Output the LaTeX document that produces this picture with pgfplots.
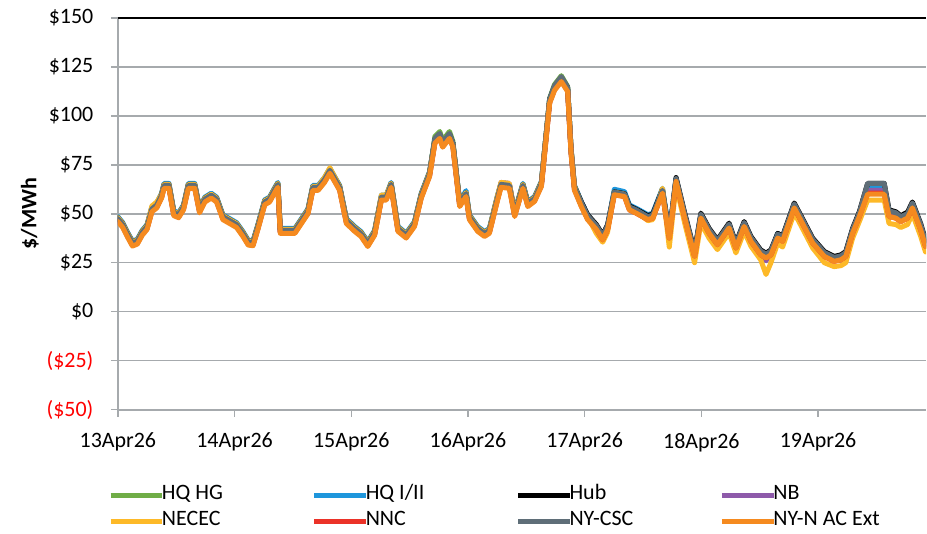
\documentclass[border=0pt]{standalone}
\usepackage{pgfplots}
\pgfplotsset{compat=1.18}
\usepackage{pgfplotstable}
\usepackage{fontspec}
\setmainfont{Carlito}
\definecolor{cHG}{RGB}{112,173,71}
\definecolor{cHQ}{RGB}{30,150,220}
\definecolor{cHUB}{RGB}{0,0,0}
\definecolor{cNB}{RGB}{142,90,170}
\definecolor{cNE}{RGB}{253,185,40}
\definecolor{cNNC}{RGB}{235,50,40}
\definecolor{cCSC}{RGB}{95,110,120}
\definecolor{cNYN}{RGB}{245,138,31}
\definecolor{gridgray}{RGB}{166,170,173}
\pgfplotstableread{
h HG HQ HUB NB NE NNC CSC NYN
0 47.5 48.5 48 46.5 48 46.5 47.5 46
1 44.5 45.5 45 43.5 45 43.5 44.5 43
2 39.5 40.5 40 38.5 40 38.5 39.5 38
3 35 36 35.5 34 35.5 34 35 33.5
4 36 37 36.5 35 36.5 35 36 34.5
5 40.5 41.5 41 39.5 41 39.5 40.5 39
6 43.5 44.5 44 42.5 44 42.5 43.5 42
7 52.5 53.5 53 51.5 54 51.5 52.5 51
8 54.5 55.5 55 53.5 56 53.5 54.5 53
9 59.5 60.5 60 58.5 60 58.5 59.5 58
9.5 64.5 65.5 65 63.5 65 63.5 64.5 63
10.5 64.5 65.5 65 63.5 65 63.5 64.5 63
11.5 50.5 51.5 51 49.5 51 49.5 50.5 49
12.5 49.5 50.5 50 48.5 50 48.5 49.5 48
13.5 53.5 54.5 54 52.5 54 52.5 53.5 52
14.5 64.5 65.5 65 63.5 65 63.5 64.5 63
15.8 64.5 65.5 65 63.5 65 63.5 64.5 63
16.8 52 53 52.5 51 52.5 51 52 50.5
17.9 57.5 58.5 58 56.5 58 56.5 57.5 56
19.2 59.5 60.5 60 58.5 60 58.5 59.5 58
20.3 57.5 58.5 58 56.5 58 56.5 57.5 56
21.6 48.5 49.5 49 47.5 49 47.5 48.5 47
23 46.5 47.5 47 45.5 47 45.5 46.5 45
24.4 44.5 45.5 45 43.5 45 43.5 44.5 43
25.7 40 41 40.5 39 40.5 39 40 38.5
26.8 35.5 36.5 36 34.5 36 34.5 35.5 34
27.8 35.2 36.2 35.7 34.2 35.7 34.2 35.2 33.7
28.8 43.5 44.5 44 42.5 44 42.5 43.5 42
30.2 56.1 57.1 56.6 55.1 56.6 55.1 56.1 54.6
31.2 57.5 58.5 58 56.5 58 56.5 57.5 56
32.3 62.5 63.5 63 61.5 63 61.5 62.5 61
32.9 65 66 65.5 64 65.5 64 65 63.5
33.4 41.5 42.5 42 40.5 42 40.5 41.5 40
36.4 41.5 42.5 42 40.5 42 40.5 41.5 40
39.1 51.5 52.5 52 50.5 52 50.5 51.5 50
40.1 63.5 64.5 64 62.5 64 62.5 63.5 62
41.2 63.5 64.5 64 62.5 64 62.5 63.5 62
42.5 67.5 68.5 68 66.5 68.5 66.5 67.5 66
43.6 72.2 73.2 72.7 71.2 73.5 71.2 72.2 70.7
45.6 63.5 64.5 64 62.5 64 62.5 63.5 62
47 46.5 47.5 47 45.5 47 45.5 46.5 45
48.7 42.5 43.5 43 41.5 43 41.5 42.5 41
50 39.9 40.9 40.4 38.9 40.4 38.9 39.9 38.4
51.4 34.8 35.8 35.3 33.8 35.3 33.8 34.8 33.3
52.8 40.5 41.5 41 39.5 41 39.5 40.5 39
54.2 58.5 59.5 59 57.5 59.5 57.5 58.5 57
55.2 58.5 59.5 59 57.5 59.5 57.5 58.5 57
56.2 65 66 65.5 64 65.5 64 65 63.5
57.6 42.5 43.5 43 41.5 43 41.5 42.5 41
59.3 39.1 40.1 39.6 38.1 39.6 38.1 39.1 37.6
61 45 46 45.5 44 45.5 44 45 43.5
62.4 59.5 60.5 60 58.5 60 58.5 59.5 58
64.1 70.5 71.5 71 69.5 71 69.5 70.5 69
65.2 89.5 88 88 86.5 87.5 86.5 88.5 86
66.2 92 90.5 90.5 89 90 89 91 88.5
66.8 87.5 86 86 84.5 85.5 84.5 86.5 84
68.2 92 90.5 90.5 89 90 89 91 88.5
68.9 87 86 86 84.5 85.5 84.5 86 84
70.3 55.2 56.2 55.7 54.2 55.7 54.2 55.2 53.7
71.6 60.3 61.8 60.8 59.3 60.8 59.3 60.3 58.8
72.3 48.5 49.5 49 47.5 49 47.5 48.5 47
74 42.5 43.5 43 41.5 43 41.5 42.5 41
75.4 39.9 40.9 40.4 38.9 40.4 38.9 39.9 38.4
76.4 41.5 42.5 42 40.5 42 40.5 41.5 40
78.1 58.5 59.5 59 58 59.5 57.5 58.5 57
78.8 65 65.5 65.5 66 66 64 65 63.5
80.5 64.5 65 65 65.5 65.5 63.5 64.5 63
81.6 50.1 51.1 50.6 49.1 50.6 49.1 50.1 48.6
83.3 64.5 65.5 65 63.5 65 63.5 64.5 63
84.3 55.2 56.2 55.7 54.2 55.7 54.2 55.2 53.7
85.7 57.8 58.8 58.3 56.8 58.3 56.8 57.8 56.3
87.1 65.5 66.5 66 64.5 66 64.5 65.5 64
88.8 109 108.5 108.5 107 108 107 108.5 106.5
89.8 116 115 115 113.5 114.5 113.5 115.5 113
91.2 120.5 119.5 119.5 118 119 118 120 117.5
92.5 115 114.4 114.4 112.9 113.9 112.9 114.5 112.4
93.2 82.5 83.5 83 81.5 83 81.5 82.5 81
93.9 63.5 64.5 64 62.5 64 62.5 63.5 62
95.3 55.2 56.2 56.2 54.2 55.2 54.2 55.7 53.7
96.6 48.5 49.5 49.5 47.5 48.5 47.5 49 47
98.4 43 43.5 44.5 42.5 40 42 44 42
99.7 37.7 38.2 39.2 37.2 35.5 36.7 38.7 36.7
100.7 42.8 43.3 44.3 42.3 40.5 41.8 43.8 41.8
102.1 60.7 62.5 61.2 60.2 61 59.7 61 59.7
104.2 59.8 61.3 60.3 59.3 60 58.8 60 58.8
105.2 53 54.5 54 52.5 53 52 53.5 52
106.6 51.3 52.8 52.3 50.8 51 50.3 52 50.3
109 48 49.5 49 47.5 46.5 47 48.5 47
110 48.8 50.3 49.8 48.3 47 47.8 49.3 47.8
112 61.5 63 62.5 61 63 60.5 62 60.5
113.4 38.6 40 39.5 38 33 37.6 39 37.6
114.8 67.5 68 68.5 67 64.5 66.5 68 66.5
116.5 49.6 50.1 51.1 49.1 46 48.6 50.6 48.6
118.6 29.2 29.7 30.7 28.7 25 28.2 30.2 28.2
119.9 48.8 49.3 50.3 48.3 45.3 47.8 49.8 47.8
121.6 41 41.5 42.5 40.5 37.5 40 42 40
123.3 35.2 35.7 36.7 34.7 31.7 34.2 36.2 34.2
125.7 43.7 44.2 45.2 43.2 40.2 42.7 44.7 42.7
127.1 33.5 34 35 33 30 32.5 34.5 32.5
128.8 44.5 45 46 44 41 43.5 45.5 43.5
130.2 36.9 37.4 38.4 36.4 33.4 35.9 37.9 35.9
132.2 30 30.5 31.5 29.5 26.5 29 31 29
133.3 28.4 28.9 29.9 26 19 27.4 29.4 27.4
134.3 30 30.5 31.5 29.5 25 29 31 29
135.7 38.6 40 40 38.1 35 37.6 39.6 37.6
136.7 37 37.5 38.5 36.5 33 36 38 36
139.1 54 54.5 55.5 53.5 50.5 53 55 53
140.8 46 46.5 47.5 45.5 42.5 45 47 45
142.9 36 36.5 37.5 35.5 32.5 35 37 35
145.3 29.2 29.7 30.7 28.7 25 28.2 30.2 28.2
147.3 26.7 27.2 28.2 26.2 23 25.7 27.7 25.7
148.7 27.5 28 29 27 23.5 26.5 28.5 26.5
149.7 29.2 29.7 30.7 28.7 25 28.2 30.2 28.2
151.1 41 41.5 42.5 40.5 37.5 40 42 40
152.5 49.6 50.1 51.1 49.1 46.1 48.6 50.6 48.6
154.2 63 63.5 65.5 62 57 60.5 65.5 60
157.6 63 63.5 65.5 62 57 60.5 65.5 60
158.6 49.6 50.1 52 49.1 45 48.6 51.5 48.6
160 48.8 49.3 51 48.3 44.5 47.8 50.5 47.8
161 47 47.5 49 46.5 43 46 48.5 46
162.4 48.8 49.3 50.8 48.3 44.5 47.8 50 47.8
163.4 54 54.5 56 53.5 50 53 55.5 53
165.1 42.8 43.3 45 42.3 38.5 41.8 44.5 41.8
166.1 34.3 34.8 36.5 33.8 30.5 33.3 36 33.3
}\prices

\begin{document}
\begin{tikzpicture}
\begin{axis}[
  name=ax,
  scale only axis,
  width=809pt, height=392pt,
  xmin=0, xmax=166.2,
  ymin=-50, ymax=150,
  axis x line*=bottom, axis y line*=left,
  axis line style={-, draw=gridgray, line width=2pt},
  tick style={draw=gridgray, line width=1.5pt},
  major tick length=7pt,
  tick align=outside,
  ymajorgrids,
  grid style={draw=gridgray, line width=1.5pt},
  ytick={-50,-25,0,25,50,75,100,125,150},
  yticklabels={\textcolor{red}{(\$50)},\textcolor{red}{(\$25)},\$0,\$25,\$50,\$75,\$100,\$125,\$150},
  xtick={0,24,48,72,96,120,144},
  xticklabels={13Apr26,14Apr26,15Apr26,16Apr26,17Apr26,18Apr26,19Apr26},
  ticklabel style={font=\fontsize{22}{26}\selectfont},
  yticklabel style={xshift=-14pt},
  xticklabel style={yshift=-13pt},
  every axis y label/.style={at={(rel axis cs:-0.109,0.5)}, rotate=90, anchor=center, font=\bfseries\fontsize{22}{26}\selectfont},
  ylabel={\$/MWh},
  every axis plot/.append style={line width=5pt, line join=round, line cap=round},
  legend columns=4,
  legend style={draw=none, fill=none, at={(rel axis cs:-0.0124,-0.191)}, anchor=north west,
    font=\fontsize{22}{26}\selectfont, inner sep=0pt, row sep=5pt,
    nodes={inner sep=1pt, text height=14pt, text depth=5pt}},
  legend cell align=left,
  legend image code/.code={\draw[#1, line width=5pt, line cap=butt] (0pt,0pt) -- (52pt,0pt);},
]
\addplot[cHG] table[x=h,y=HG]{\prices};
\addplot[cHQ] table[x=h,y=HQ]{\prices};
\addplot[cHUB] table[x=h,y=HUB]{\prices};
\addplot[cNB] table[x=h,y=NB]{\prices};
\addplot[cNE] table[x=h,y=NE]{\prices};
\addplot[cNNC] table[x=h,y=NNC]{\prices};
\addplot[cCSC] table[x=h,y=CSC]{\prices};
\addplot[cNYN] table[x=h,y=NYN]{\prices};
\legend{\hspace*{-4pt}\makebox[149pt][l]{HQ HG},\hspace*{-4pt}\makebox[149pt][l]{HQ I/II},\hspace*{-4pt}\makebox[149pt][l]{Hub},\hspace*{-4pt}NB,\hspace*{-4pt}\makebox[149pt][l]{NECEC},\hspace*{-4pt}\makebox[149pt][l]{NNC},\hspace*{-4pt}\makebox[149pt][l]{NY-CSC},\hspace*{-4pt}NY-N AC Ext}
\end{axis}
\draw[black, line width=2pt] (ax.north west) -- (ax.north east);
\path ([xshift=-118pt,yshift=18pt]ax.north west) rectangle ([yshift=-124pt]ax.south east);
\end{tikzpicture}
\end{document}
